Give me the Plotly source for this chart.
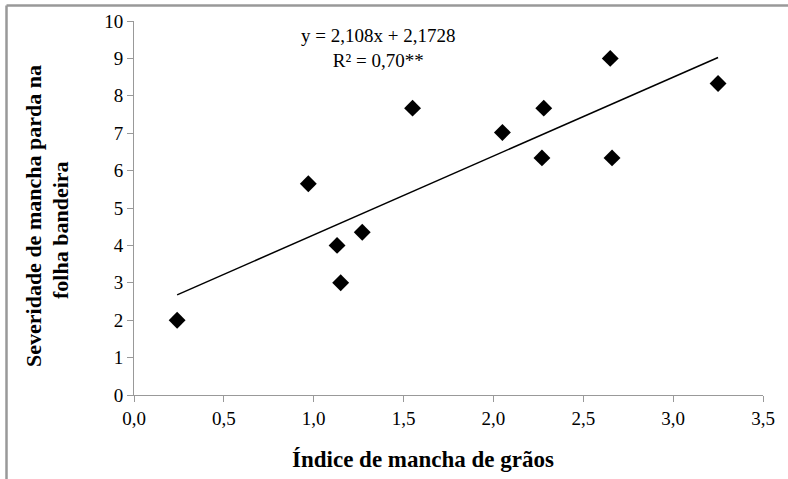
import plotly.graph_objects as go

indice_graos = [0.24, 0.97, 1.13, 1.15, 1.27, 1.55, 2.05, 2.27, 2.28, 2.65, 2.66, 3.25]
severidade = [2.0, 5.65, 4.0, 3.0, 4.35, 7.67, 7.02, 6.34, 7.67, 9.0, 6.34, 8.33]
slope = 2.108
intercept = 2.1728
x_ticks = [0.0, 0.5, 1.0, 1.5, 2.0, 2.5, 3.0, 3.5]
x_ticklabels = ["0,0", "0,5", "1,0", "1,5", "2,0", "2,5", "3,0", "3,5"]
y_ticks = list(range(0, 11))
x_title = "Índice de mancha de grãos"
y_title_lines = ["Severidade de mancha parda na", "folha bandeira"]

xmin, xmax = min(indice_graos), max(indice_graos)
trend_x = [xmin, xmax]
trend_y = [slope * v + intercept for v in trend_x]

font = "Liberation Serif"

fig = go.Figure()
fig.add_trace(go.Scatter(x=trend_x, y=trend_y, mode="lines",
                         line=dict(color="black", width=1.5), showlegend=False))
fig.add_trace(go.Scatter(x=indice_graos, y=severidade, mode="markers",
                         marker=dict(symbol="diamond", color="black", size=13),
                         showlegend=False))

L, R, T, B = 134, 25, 21, 84
W, H = 788, 479
pw, ph = W - L - R, H - T - B


def px(x):
    return (x - L) / pw


def py(y):
    return (H - B - y) / ph


fig.add_shape(type="line", xref="paper", yref="paper", x0=px(6.5), x1=px(W + 5),
              y0=py(5.5), y1=py(5.5), line=dict(color="#999999", width=2.5))
fig.add_shape(type="line", xref="paper", yref="paper", x0=px(6.5), x1=px(6.5),
              y0=py(5.5), y1=py(H + 5), line=dict(color="#999999", width=2.5))

fig.add_annotation(x=1.36, y=9.28, xref="x", yref="y",
                   text="y = 2,108x + 2,1728<br>R² = 0,70**", showarrow=False,
                   font=dict(family=font, size=19, color="black"), align="center")

fig.add_annotation(x=px(422.5), y=py(459), xref="paper", yref="paper",
                   xanchor="center", yanchor="middle", showarrow=False,
                   text="<b>" + x_title + "</b>",
                   font=dict(family=font, size=23, color="black"))
fig.add_annotation(x=px(33), y=py(216), xref="paper", yref="paper",
                   xanchor="center", yanchor="middle", showarrow=False, textangle=-90,
                   text="<b>" + y_title_lines[0] + "</b>",
                   font=dict(family=font, size=22, color="black"))
fig.add_annotation(x=px(60), y=py(230), xref="paper", yref="paper",
                   xanchor="center", yanchor="middle", showarrow=False, textangle=-90,
                   text="<b>" + y_title_lines[1] + "</b>",
                   font=dict(family=font, size=22, color="black"))

fig.update_layout(
    width=W, height=H,
    margin=dict(l=L, r=R, t=T, b=B),
    paper_bgcolor="white", plot_bgcolor="white",
    font=dict(family=font, color="black"),
)
fig.update_xaxes(range=[0, 3.5], tickvals=x_ticks, ticktext=x_ticklabels,
                 showgrid=False, zeroline=False, showline=True, linecolor="#999999",
                 linewidth=1, ticks="outside", tickcolor="#999999", ticklen=6,
                 tickfont=dict(family=font, size=19, color="black"))
fig.update_yaxes(range=[0, 10], tickvals=y_ticks,
                 showgrid=False, zeroline=False, showline=True, linecolor="#999999",
                 linewidth=1, ticks="outside", tickcolor="#999999", ticklen=6,
                 tickfont=dict(family=font, size=19, color="black"))

fig.write_html("out.html")
